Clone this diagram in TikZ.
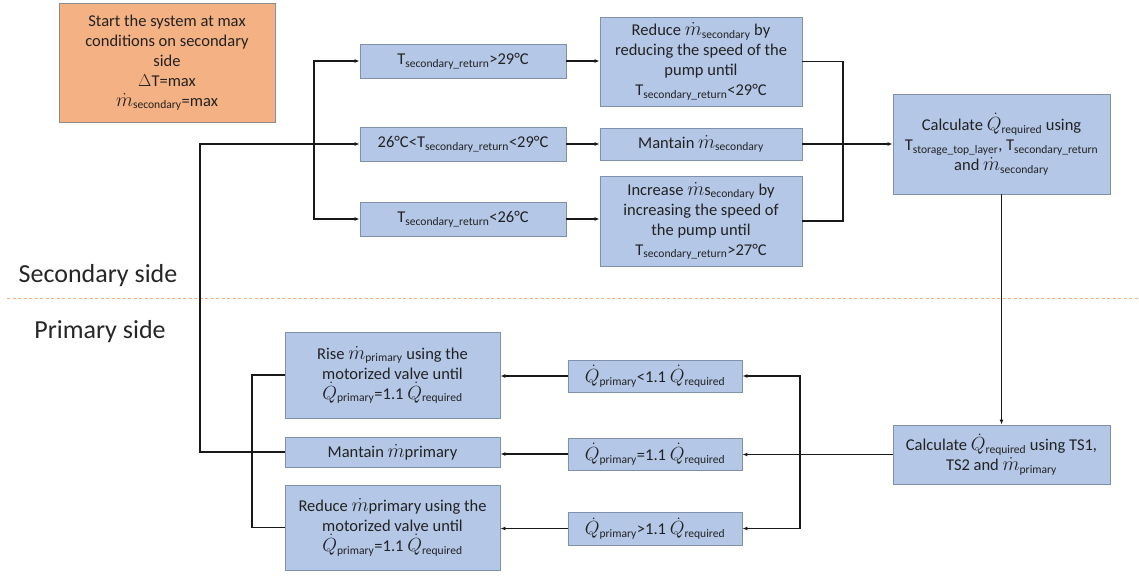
\documentclass[tikz,border=0pt]{standalone}
\usepackage{fontspec}
\usepackage{graphicx}
\setmainfont{Carlito}
\usetikzlibrary{arrows.meta}
\definecolor{boxblue}{HTML}{B4C7E7}
\definecolor{boxline}{HTML}{7F90AD}
\definecolor{startfill}{HTML}{F4B183}
\definecolor{startline}{HTML}{8C8C8C}
\definecolor{inktext}{HTML}{222222}
\newcommand{\mdot}{\scalebox{1.15}{$\dot{m}$}}
\newcommand{\Qdot}{\scalebox{1.1}{$\dot{Q}$}}
\newcommand{\sbs}[1]{\textsubscript{#1}}
\begin{document}
\begin{tikzpicture}[x=1pt,y=-1pt,
  box/.style={draw=boxline, fill=boxblue, line width=0.9pt, align=center,
    inner sep=1pt, text=inktext, font=\fontsize{16.5}{20}\selectfont},
  startbox/.style={box, draw=startline, fill=startfill},
  link/.style={line width=1.2pt, draw=black!90},
  arr/.style={link, -{Latex[length=5pt,width=4pt]}},
  sidelabel/.style={font=\fontsize{26}{30}\selectfont, text=black!85}]
\useasboundingbox (0,0) rectangle (1139,575);

% starting condition
\node[startbox, minimum width=216pt, minimum height=119pt] (start) at (167,62.5)
  {Start the system at max\\ conditions on secondary\\ side\\ $\Delta$T=max\\ \mdot\sbs{secondary}=max};

% secondary side: temperature checks
\node[box, minimum width=206pt, minimum height=34pt] (a1) at (463,61)
  {T\sbs{secondary\_return}>29°C};
\node[box, minimum width=206pt, minimum height=34pt] (a2) at (463,144)
  {26°C<T\sbs{secondary\_return}<29°C};
\node[box, minimum width=206pt, minimum height=34pt] (a3) at (463,219)
  {T\sbs{secondary\_return}<26°C};

% secondary side: pump actions
\node[box, minimum width=202pt, minimum height=89pt] (b1) at (701,61.5)
  {Reduce \mdot\sbs{secondary} by\\ reducing the speed of the\\ pump until\\ T\sbs{secondary\_return}<29°C};
\node[box, minimum width=202pt, minimum height=32pt] (b2) at (701,144)
  {Mantain \mdot\sbs{secondary}};
\node[box, minimum width=202pt, minimum height=90pt] (b3) at (701,221)
  {Increase \mdot s\sbs{econdary} by\\ increasing the speed of\\ the pump until\\ T\sbs{secondary\_return}>27°C};

% required heat
\node[box, minimum width=217pt, minimum height=100pt] (c) at (1001.5,144)
  {Calculate \Qdot\sbs{required} using\\ T\sbs{storage\_top\_layer}, T\sbs{secondary\_return}\\ and \mdot\sbs{secondary}};
\node[box, minimum width=217pt, minimum height=59pt] (d) at (1001.5,454.5)
  {Calculate \Qdot\sbs{required} using TS1,\\ TS2 and \mdot\sbs{primary}};

% primary side: heat checks
\node[box, minimum width=174pt, minimum height=32pt] (e1) at (655,376)
  {\Qdot\sbs{primary}<1.1 \Qdot\sbs{required}};
\node[box, minimum width=174pt, minimum height=32pt] (e2) at (655,454)
  {\Qdot\sbs{primary}=1.1 \Qdot\sbs{required}};
\node[box, minimum width=174pt, minimum height=33pt] (e3) at (655,528.5)
  {\Qdot\sbs{primary}>1.1 \Qdot\sbs{required}};

% primary side: valve actions
\node[box, minimum width=215pt, minimum height=86pt] (f1) at (392.5,375)
  {Rise \mdot\sbs{primary} using the\\ motorized valve until\\ \Qdot\sbs{primary}=1.1 \Qdot\sbs{required}};
\node[box, minimum width=215pt, minimum height=30pt] (f2) at (392.5,452)
  {Mantain \mdot primary};
\node[box, minimum width=215pt, minimum height=85pt] (f3) at (392.5,527.5)
  {Reduce \mdot primary using the\\ motorized valve until\\ \Qdot\sbs{primary}=1.1 \Qdot\sbs{required}};

% side separator
\draw[startfill, line width=1pt, dash pattern=on 3pt off 2.5pt] (7,298) -- (1139,298);
\node[sidelabel] (lsec) at (98,276) {Secondary side};
\node[sidelabel] (lpri) at (100,332) {Primary side};

% junction points
\coordinate (split) at (314,144);
\coordinate (loopL) at (200,300);
\coordinate (merge) at (843,144);
\coordinate (fan) at (800,454);
\coordinate (join) at (252,452);

% secondary side flow
\draw[arr] (f2.west) -| (loopL) |- (a2.west);
\draw[arr] (split) |- (a1.west);
\draw[arr] (split) |- (a3.west);
\draw[arr] (a1.east) -- (a1.east -| b1.west);
\draw[arr] (a2.east) -- (a2.east -| b2.west);
\draw[arr] (a3.east) -- (a3.east -| b3.west);
\draw[link] (b1.east) -| (merge);
\draw[link] (b3.east) -| (merge);
\draw[arr] (b2.east) -- (c.west);
\draw[arr] (c.south) -- (d.north);

% primary side flow
\draw[arr] (d.west) -- (d.west -| e2.east);
\draw[arr] (fan) |- (e1.east);
\draw[arr] (fan) |- (e3.east);
\draw[arr] (e1.west) -- (e1.west -| f1.east);
\draw[arr] (e2.west) -- (e2.west -| f2.east);
\draw[arr] (e3.west) -- (e3.west -| f3.east);
\draw[link] (f1.west) -| (join);
\draw[link] (f3.west) -| (join);
\end{tikzpicture}
\end{document}
